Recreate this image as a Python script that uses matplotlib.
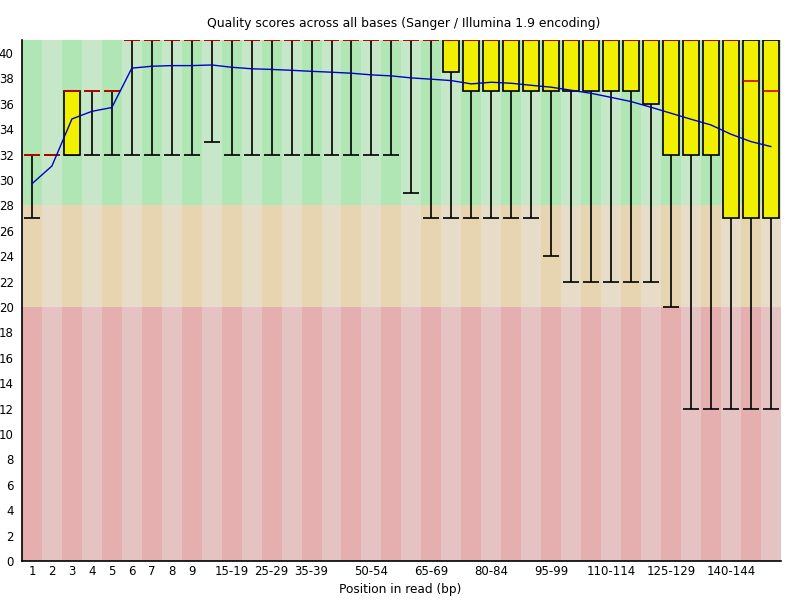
import matplotlib
matplotlib.use("Agg")
import matplotlib.pyplot as plt

# per-position groups (FastQC style)
positions = [str(i) for i in range(1, 10)] + [f"{s}-{s + 4}" for s in range(10, 150, 5)] + ["150-151"]
shown_labels = ["1", "2", "3", "4", "5", "6", "7", "8", "9", "15-19", "25-29", "35-39",
                "50-54", "65-69", "80-84", "95-99", "110-114", "125-129", "140-144"]

lower_whisker = [27, 32, 32, 32, 32, 32, 32, 32, 32, 33, 32, 32, 32, 32, 32, 32, 32, 32, 32,
                 29, 27, 27, 27, 27, 27, 27, 24, 22, 22, 22, 22, 22, 20, 12, 12, 12, 12, 12]
q1 = [32, 32, 32, 37, 37] + [41] * 16 + [38.5] + [37] * 9 + [36, 32, 32, 32, 27, 27, 27]
median = [32, 32, 37, 37, 37] + [41] * 31 + [37.75, 37]
q3 = [32, 32, 37, 37, 37] + [41] * 33
upper_whisker = [32, 32, 37, 37, 37] + [41] * 33
mean = [29.7, 31.1, 34.8, 35.4, 35.7, 38.8, 38.95, 39.0, 39.0, 39.05, 38.87, 38.75, 38.7,
        38.63, 38.55, 38.48, 38.4, 38.27, 38.19, 38.03, 37.93, 37.82, 37.56, 37.69, 37.61,
        37.45, 37.3, 37.06, 36.82, 36.5, 36.17, 35.72, 35.25, 34.78, 34.33, 33.6, 33.02, 32.63]

zones = [(0, 20, "#e6afaf", "#e6c3c3"), (20, 28, "#e6d5b0", "#e6dcc8"), (28, 41, "#b0e6b4", "#c6e8c8")]

fig = plt.figure(figsize=(8, 6), dpi=100)
ax = fig.add_axes([0.0275, 0.065, 0.9485, 0.868])

n = len(positions)
x = list(range(n))

# background stripes
for lo, hi, dark, light in zones:
    ax.bar(x, [hi - lo] * n, bottom=lo, width=1.0,
           color=[dark if i % 2 == 0 else light for i in x], linewidth=0, zorder=0)

w = 0.8
ax.vlines(x, lower_whisker, upper_whisker, color="black", linewidth=1.2, zorder=2)
ax.hlines(lower_whisker, [i - w / 2 for i in x], [i + w / 2 for i in x], color="black", linewidth=1.2, zorder=2)
ax.hlines(upper_whisker, [i - w / 2 for i in x], [i + w / 2 for i in x], color="black", linewidth=1.2, zorder=2)
for i in x:
    if q3[i] > q1[i]:
        ax.bar(i, q3[i] - q1[i], bottom=q1[i], width=w, color="#f0f000",
               edgecolor="black", linewidth=1.2, zorder=3)
ax.hlines(median, [i - w / 2 for i in x], [i + w / 2 for i in x], color="#d00000", linewidth=1.2, zorder=4)
ax.plot(x, mean, color="#0000c8", linewidth=1.0, zorder=5)

ax.set_xlim(-0.5, n - 0.5)
ax.set_ylim(0, 41)
ax.set_yticks(range(0, 41, 2))
ax.set_xticks([positions.index(s) for s in shown_labels])
ax.set_xticklabels(shown_labels)
ax.tick_params(length=0, labelsize=8.5, pad=3)
ax.tick_params(axis="y", pad=6)
for side in ("top", "right"):
    ax.spines[side].set_visible(False)
ax.spines["left"].set_linewidth(1.2)
ax.spines["bottom"].set_linewidth(1.2)

fig.text(0.505, 0.96, "Quality scores across all bases (Sanger / Illumina 1.9 encoding)",
         ha="center", va="center", fontsize=8.9)
fig.text(0.5, 0.017, "Position in read (bp)", ha="center", va="center", fontsize=8.7)

fig.savefig("out.png", dpi=100)
